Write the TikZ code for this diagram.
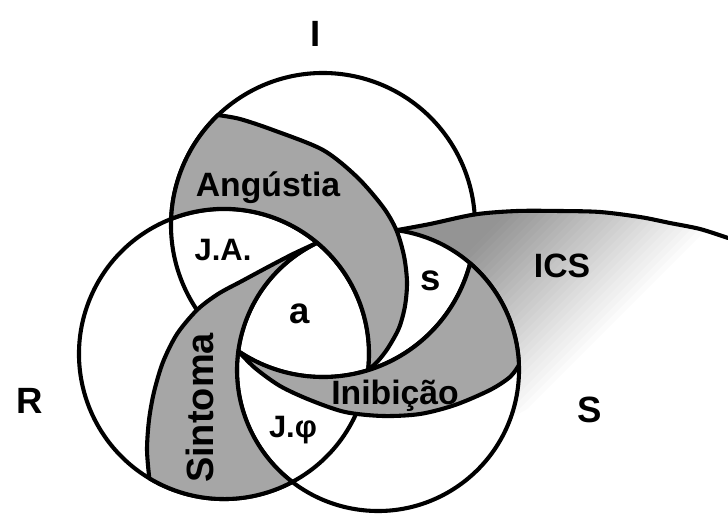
\documentclass[tikz,border=0pt]{standalone}
\usepackage{fontspec}
\setsansfont{Liberation Sans}
\usetikzlibrary{calc}
\tikzset{
    knot ring/.style={line width=2.9pt, line cap=round, line join=round},
    knot band/.style={fill=black!35},
    knot label/.style={font=\sffamily\bfseries\fontsize{24}{26}\selectfont, inner sep=0pt, anchor=base},
    ring label/.style={knot label, font=\sffamily\bfseries\fontsize{26}{28}\selectfont},
    small label/.style={knot label, font=\sffamily\bfseries\fontsize{22}{24}\selectfont}
}

\begin{document}
\begin{tikzpicture}[x=0.25mm, y=-0.25mm]
\useasboundingbox (0,0) rectangle (728,514);
\coordinate (cI) at (323,225);
\coordinate (cR) at (224,354);
\coordinate (cS) at (378,370);

% ICS fade
\begin{scope}
\clip (396.4,230.2) -- plot[smooth] coordinates {(396.4,230.2) (430,224) (475,214.4) (517,211) (560,211) (600,212) (640,217) (670,223) (700,229) (728,238)}
    -- (728,300) -- (510.5,418.2) arc[start angle=20, end angle=-82.5, radius=141] -- cycle;
\foreach \s in {600,608,...,936} {
    \pgfmathsetmacro\dens{max(0,min(42,42*(936-\s)/220))}
    \fill[black!\dens] (\s-150,150) -- (\s-141,150) -- (\s-441,450) -- (\s-450,450) -- cycle;
}
\end{scope}

% rings, visible parts
\draw[knot ring] (cI) ++(146:152) arc[start angle=146, end angle=356, radius=152];
\draw[knot ring] (cI) ++(14.6:152) arc[start angle=14.6, end angle=123.9, radius=152];
\draw[knot ring] (cR) ++(24:145) arc[start angle=24, end angle=366.4, radius=145];
\draw[knot ring] (cS) ++(277.5:141) arc[start angle=277.5, end angle=604.4, radius=141];
\draw[knot ring] plot[smooth] coordinates {(396.4,230.2) (430,224) (475,214.4) (517,211) (560,211) (600,212) (640,217) (670,223) (700,229) (728,238)};

% Angustia
\filldraw[knot band, knot ring] (218,115.1) arc[start angle=226.3, end angle=182.3, radius=152]
    arc[start angle=248.6, end angle=366.4, radius=145]
    -- plot[smooth] coordinates {(368.1,370.2) (378,361) (388,348) (399,328) (405,306) (407,282) (404,256) (396.4,230.2) (383,207) (357,177) (323,150) (273,130) (240,119) (218,115.1)} -- cycle;

% Sintoma
\filldraw[knot band, knot ring] (317.1,242.8) arc[start angle=244.4, end angle=127.4, radius=141]
    arc[start angle=61.9, end angle=121, radius=145]
    -- plot[smooth] coordinates {(149.3,478.3) (147,450) (149,420) (154,392) (163,362) (177,334) (197,310) (218,294) (242,281) (268,267) (293,254) (317.1,242.8)} -- cycle;

% Inibicao
\filldraw[knot band, knot ring] (238.3,351.2) arc[start angle=123.9, end angle=14.6, radius=152]
    arc[start angle=310.8, end angle=358, radius=141]
    -- plot[smooth] coordinates {(518.9,365.1) (510,377) (490,390) (455,405) (420,414) (383,416) (345,412) (310,400) (280,386) (255,368) (238.3,351.2)} -- cycle;

% labels
\node[ring label] (lblI) at (316,47) {I};
\node[ring label] (lblR) at (30,413) {R};
\node[ring label] (lblS) at (590,422) {S};
\node[knot label] (angustia) at (268,197) {Angústia};
\node[small label] (ja) at (223,261) {J.A.};
\node[ring label] (obja) at (300,323) {a};
\node[ring label] (sens) at (431,290) {s};
\node[knot label] (ics) at (562,277) {ICS};
\node[knot label] (inibicao) at (395,404) {Inibição};
\node[small label] (jphi) at (293,437) {J.φ};
\node[knot label, anchor=center, rotate=90, font=\sffamily\bfseries\fontsize{27}{29}\selectfont] (sintoma) at (200,408) {Sintoma};
\end{tikzpicture}
\end{document}
